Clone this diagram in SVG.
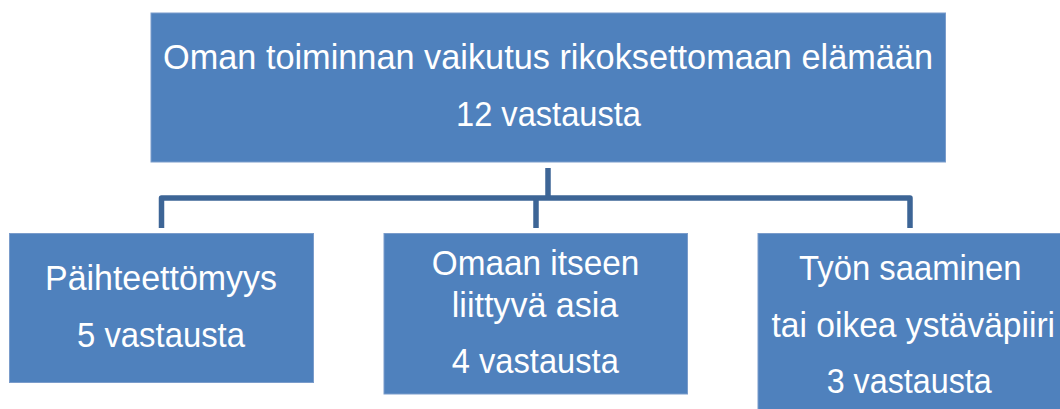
<svg xmlns="http://www.w3.org/2000/svg" width="1060" height="409" viewBox="0 0 1060 409">
<style>
.box{fill:#4F81BD;stroke:#7A9CCB;stroke-width:1}
.t{font-family:"Liberation Sans",Arial,sans-serif;font-size:35px;fill:#FFFFFF;text-anchor:middle}
.c{fill:none;stroke:#3D6596;stroke-width:5.5;stroke-linejoin:round}
</style>
<rect width="1060" height="409" fill="#FFFFFF"/>
<g id="connectors">
<path class="c" d="M548,168 V198"/>
<path class="c" d="M161.5,228 V198 H910 V228"/>
<path class="c" d="M536,198 V228"/>
</g>
<g id="top">
<rect class="box" x="151" y="13" width="794.5" height="149"/>
<text class="t" x="548" y="69" textLength="770" lengthAdjust="spacingAndGlyphs">Oman toiminnan vaikutus rikoksettomaan elämään</text>
<text class="t" x="548.5" y="126" textLength="185" lengthAdjust="spacingAndGlyphs">12 vastausta</text>
</g>
<g id="left">
<rect class="box" x="9.5" y="233.5" width="304" height="149"/>
<text class="t" x="161" y="290" textLength="232" lengthAdjust="spacingAndGlyphs">Päihteettömyys</text>
<text class="t" x="161" y="346.5" textLength="168" lengthAdjust="spacingAndGlyphs">5 vastausta</text>
</g>
<g id="middle">
<rect class="box" x="384" y="233.5" width="303.5" height="160.5"/>
<text class="t" x="535.5" y="275" textLength="207.5" lengthAdjust="spacingAndGlyphs">Omaan itseen</text>
<text class="t" x="535" y="316.5" textLength="166.5" lengthAdjust="spacingAndGlyphs">liittyvä asia</text>
<text class="t" x="535.3" y="373" textLength="167" lengthAdjust="spacingAndGlyphs">4 vastausta</text>
</g>
<g id="right">
<rect class="box" x="758" y="233.5" width="303" height="177"/>
<text class="t" x="910.3" y="280" textLength="222.5" lengthAdjust="spacingAndGlyphs">Työn saaminen</text>
<text class="t" x="913.3" y="336.5" textLength="283.5" lengthAdjust="spacingAndGlyphs">tai oikea ystäväpiiri</text>
<text class="t" x="909.2" y="393" textLength="165" lengthAdjust="spacingAndGlyphs">3 vastausta</text>
</g>
</svg>
